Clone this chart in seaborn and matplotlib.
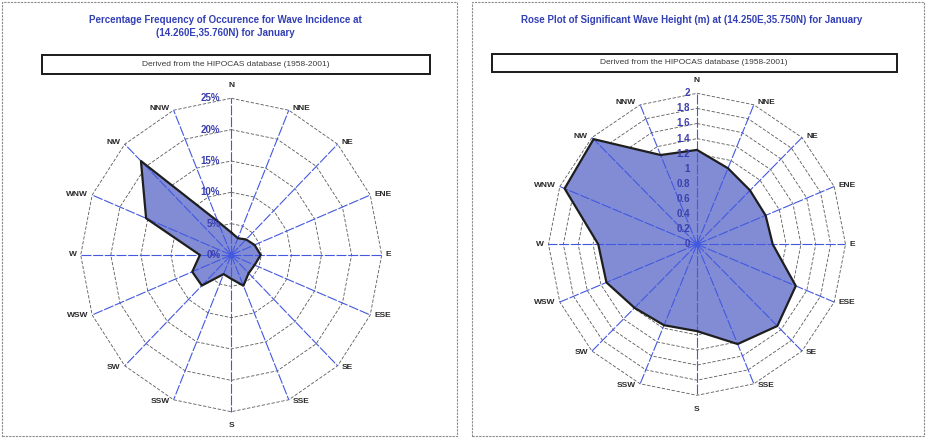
import numpy as np
import matplotlib
matplotlib.use("Agg")
import matplotlib.pyplot as plt
from matplotlib.patches import Rectangle
import seaborn as sns

# compass sectors, clockwise from north
directions = ["N", "NNE", "NE", "ENE", "E", "ESE", "SE", "SSE",
              "S", "SSW", "SW", "WSW", "W", "WNW", "NW", "NNW"]

# percentage frequency of wave incidence (January)
freq_pct = [3.6, 2.9, 3.5, 4.2, 4.9, 4.2, 4.1, 5.3,
            3.8, 3.3, 6.9, 7.0, 5.2, 15.3, 21.2, 5.8]
freq_ticks = [0, 5, 10, 15, 20, 25]
freq_tick_labels = ["0%", "5%", "10%", "15%", "20%", "25%"]

# significant wave height (m) per sector (January)
hs_m = [1.25, 1.09, 1.01, 1.00, 1.02, 1.44, 1.53, 1.43,
        1.15, 1.16, 1.19, 1.32, 1.33, 1.93, 1.97, 1.28]
hs_ticks = [0, 0.2, 0.4, 0.6, 0.8, 1.0, 1.2, 1.4, 1.6, 1.8, 2.0]
hs_tick_labels = ["0", "0.2", "0.4", "0.6", "0.8", "1", "1.2", "1.4", "1.6", "1.8", "2"]

title_left = "Percentage Frequency of Occurence for Wave Incidence at\n(14.260E,35.760N) for January"
title_right = "Rose Plot of Significant Wave Height (m) at (14.250E,35.750N) for January"
source_note = "Derived from the HIPOCAS database (1958-2001)"

W_PX, H_PX = 929, 438
FILL = "#818cd5"
SPOKE = "#4358e0"
TITLE_BLUE = "#3340b5"

sns.set_style("white")
plt.rcParams["font.family"] = ["Liberation Sans", "DejaVu Sans"]

fig = plt.figure(figsize=(W_PX / 100, H_PX / 100), dpi=100)


def radar(ax_left, ax_right, cx, cy, rx, ry, values, ticks, tick_labels, tick_dx):
    """Draw one Excel-style radar panel. Geometry given in figure pixels."""
    rmax = ticks[-1]
    sx, sy = rx / rmax, ry / rmax
    ax = fig.add_axes([ax_left / W_PX, 0, (ax_right - ax_left) / W_PX, 1])
    ax.set_xlim(-(cx - ax_left) / sx, (ax_right - cx) / sx)
    ax.set_ylim(-(H_PX - cy) / sy, cy / sy)
    ax.axis("off")

    theta = np.deg2rad(np.arange(len(directions)) * 360 / len(directions))
    sin_t, cos_t = np.sin(theta), np.cos(theta)

    # polygon rings
    for t in ticks[1:]:
        xs = np.append(t * sin_t, t * sin_t[0])
        ys = np.append(t * cos_t, t * cos_t[0])
        ax.plot(xs, ys, color="#5a5a5a", lw=0.6, ls=(0, (4, 2)), zorder=1)

    # data polygon
    vals = np.array(values)
    px = vals * sin_t
    py = vals * cos_t
    ax.fill(px, py, color=FILL, zorder=2, lw=0)
    sns.lineplot(x=np.append(px, px[0]), y=np.append(py, py[0]), sort=False,
                 estimator=None, color="#1e1e1e", lw=1.6, ax=ax, zorder=4)

    # spokes
    for s, c in zip(sin_t, cos_t):
        ax.plot([0, rmax * s], [0, rmax * c], color=SPOKE, lw=0.8,
                ls=(0, (9, 1.5)), zorder=3)
    ax.scatter([0], [0], s=18, color=SPOKE, zorder=5, lw=0)

    # tick labels up the north spoke
    for t, lab in zip(ticks, tick_labels):
        ax.annotate(lab, xy=(0, t), xytext=(-tick_dx * 0.72, 0), textcoords="offset points",
                    ha="right", va="center", fontsize=7, fontweight="bold",
                    color="#3a3fae", zorder=6)

    # direction labels
    for d, s, c in zip(directions, sin_t, cos_t):
        xy = (rmax * s, rmax * c)
        if abs(s) < 1e-6:
            off = (0, 9 if c > 0 else -10)
            ha = "center"
        elif s > 0:
            off, ha = (3, 1.5 * c), "left"
        else:
            off, ha = (-3, 1.5 * c), "right"
        ax.annotate(d, xy=xy, xytext=off, textcoords="offset points", ha=ha,
                    va="center", fontsize=6, fontweight="bold", color="#2a2a2a")
    return ax


radar(0, 464.5, 231.2, 255.0, 150.5, 156.7, freq_pct, freq_ticks, freq_tick_labels, 11)
radar(464.5, 929, 697.0, 244.3, 148.5, 151.0, hs_m, hs_ticks, hs_tick_labels, 7)


def fx(x):
    return x / W_PX


def fy(y):
    return 1 - y / H_PX


# panel frames
for x0, x1 in [(2, 457), (472, 924)]:
    fig.add_artist(Rectangle((fx(x0), fy(436)), fx(x1 - x0), (436 - 2) / H_PX,
                             transform=fig.transFigure, fill=False,
                             edgecolor="#8a8a8a", lw=0.8, ls=(0, (2, 1))))

# titles
fig.text(fx(225.5), fy(26.5), title_left, ha="center", va="center", fontsize=7,
         fontweight="bold", color=TITLE_BLUE, linespacing=1.35)
fig.text(fx(691.7), fy(20), title_right, ha="center", va="center", fontsize=7,
         fontweight="bold", color=TITLE_BLUE)

# source boxes
for x0, x1, y0, y1 in [(42, 430, 55, 74), (491.7, 896.7, 54.3, 71.7)]:
    fig.add_artist(Rectangle((fx(x0), fy(y1)), fx(x1 - x0), (y1 - y0) / H_PX,
                             transform=fig.transFigure, fill=False,
                             edgecolor="#1a1a1a", lw=1.4))
    fig.text(fx((x0 + x1) / 2), fy((y0 + y1) / 2 - 0.5), source_note, ha="center",
             va="center", fontsize=6, color="#3a3a3a")

fig.savefig("out.png", dpi=100)
